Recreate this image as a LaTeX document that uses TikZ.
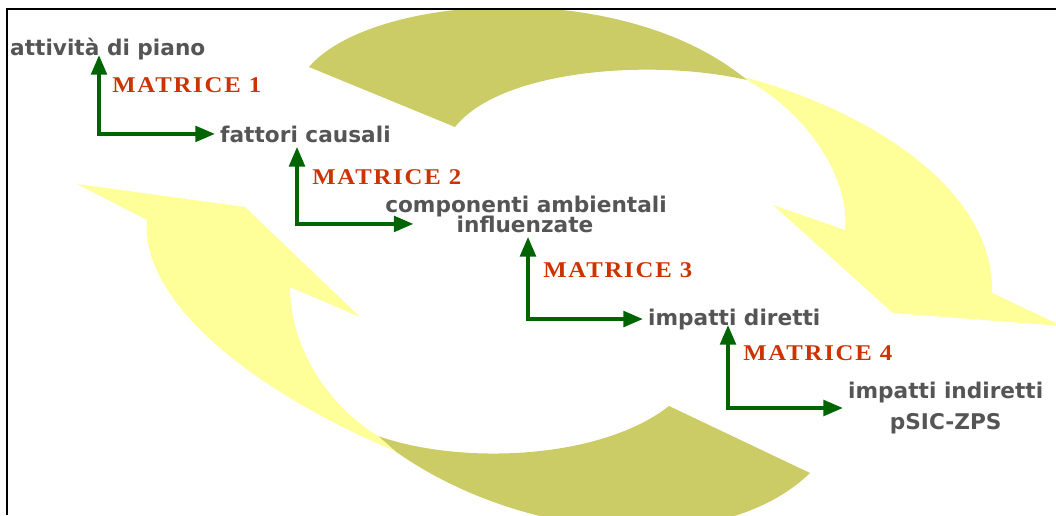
\documentclass[tikz,border=0pt]{standalone}
\usepackage{fontspec}
\newfontfamily\vocefont{DejaVu Sans}
\newfontfamily\matfont[FakeStretch=1.1,LetterSpace=8]{Liberation Serif}
\usetikzlibrary{arrows.meta}
\definecolor{darkgreen}{RGB}{0,100,0}
\definecolor{grigio}{RGB}{85,85,85}
\definecolor{rossomat}{RGB}{204,51,0}
\definecolor{giallino}{RGB}{255,255,153}
\definecolor{oliva}{RGB}{204,204,102}

\begin{document}
\begin{tikzpicture}[x=0.025cm, y=-0.025cm,
    >={Triangle[length=14pt,width=11pt]},
    voce/.style={text=grigio, font=\vocefont\bfseries\fontsize{15.4}{17}\selectfont, inner xsep=3.5pt, inner ysep=3pt},
    matrice/.style={text=rossomat, font=\matfont\bfseries\fontsize{16}{18}\selectfont, inner sep=0pt, anchor=base west},
    freccia/.style={<->, line width=2.8pt, draw=darkgreen}]

    \useasboundingbox (0,0) rectangle (1056,515);

    % frecce curve sullo sfondo
    \begin{scope}
    \clip (7,9) rectangle (1056,515);
    \fill[giallino] (740,76) .. controls (870,110) and (995,190) .. (992,293)
        -- (1062,326) -- (893,313) -- (773,205) -- (845,230)
        .. controls (850,180) and (810,115) .. (747,80) -- cycle;
    \fill[oliva] (309,67) .. controls (370,-5) and (620,-25) .. (747,80)
        .. controls (650,58) and (500,70) .. (455,127) -- cycle;
    \fill[oliva] (378,436) .. controls (460,465) and (600,460) .. (669,406)
        -- (810,473) .. controls (720,560) and (520,540) .. (395,451) -- cycle;
    \fill[giallino] (395,451) .. controls (250,390) and (140,300) .. (147,220)
        -- (77,184) -- (245,207) -- (360,317) -- (290,287)
        .. controls (290,340) and (320,400) .. (378,436) -- cycle;
    \end{scope}
    \draw[line width=1pt] (7,515) -- (7,9) -- (1056,9);

    % voci
    \node[voce, anchor=base west] at (5,55) (att) {attività di piano};
    \node[voce, anchor=base west] at (215,142) (fatt) {fattori causali};
    \node[voce, anchor=base] at (526,212) (comp) {componenti ambientali};
    \node[voce, anchor=base] at (525,232) (infl) {influenzate};
    \node[voce, anchor=base west] at (643,325) (dir) {impatti diretti};
    \node[voce, anchor=west, align=center] at (843,408) (ind) {impatti indiretti\\[5pt]pSIC-ZPS};

    \node[matrice] at (112,92) (m1) {MATRICE 1};
    \node[matrice] at (312,184) (m2) {MATRICE 2};
    \node[matrice] at (543,277) (m3) {MATRICE 3};
    \node[matrice] at (743,360) (m4) {MATRICE 4};

    % frecce a L
    \coordinate (k1) at (99,133);
    \coordinate (k2) at (297,226);
    \coordinate (k3) at (528,320);
    \coordinate (k4) at (728,405);

    \draw[freccia] (att.base -| k1) |- (fatt.west);
    \draw[freccia] (fatt.south -| k2) |- ([xshift=-27pt]infl.west);
    \draw[freccia] (infl.south -| k3) |- (dir.west);
    \draw[freccia] (dir.base -| k4) |- (ind.west);

\end{tikzpicture}
\end{document}
